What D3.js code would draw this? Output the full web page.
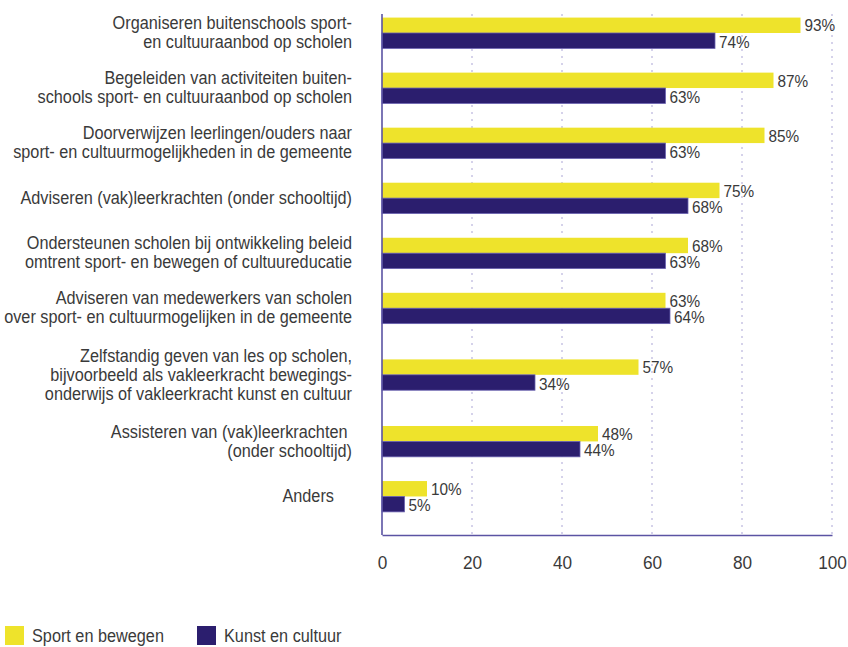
<!DOCTYPE html>
<html>
<head>
<meta charset="utf-8">
<script src="https://cdn.jsdelivr.net/npm/d3@7"></script>
<style>
  html, body { margin: 0; padding: 0; background: #fff; }
  svg { display: block; }
  text { font-family: "Liberation Sans", Arial, sans-serif; fill: #3a3a3a; white-space: pre; }
</style>
</head>
<body>
<svg id="chart" width="848" height="647"></svg>
<script>
// ---- data ----
const categories = [
  ["Organiseren buitenschools sport-", "en cultuuraanbod op scholen"],
  ["Begeleiden van activiteiten buiten-", "schools sport- en cultuuraanbod op scholen"],
  ["Doorverwijzen leerlingen/ouders naar", "sport- en cultuurmogelijkheden in de gemeente"],
  ["Adviseren (vak)leerkrachten (onder schooltijd)"],
  ["Ondersteunen scholen bij ontwikkeling beleid", "omtrent sport- en bewegen of cultuureducatie"],
  ["Adviseren van medewerkers van scholen", "over sport- en cultuurmogelijken in de gemeente"],
  ["Zelfstandig geven van les op scholen,", "bijvoorbeeld als vakleerkracht bewegings-", "onderwijs of vakleerkracht kunst en cultuur"],
  ["Assisteren van (vak)leerkrachten ", "(onder schooltijd)"],
  ["Anders    "]
];
const sportValues = [93, 87, 85, 75, 68, 63, 57, 48, 10];
const kunstValues = [74, 63, 63, 68, 63, 64, 34, 44, 5];
const seriesNames = ["Sport en bewegen", "Kunst en cultuur"];
const xTicks = [0, 20, 40, 60, 80, 100];

// ---- style ----
const YELLOW = "#EEE32B";
const NAVY = "#2B1E6E";
const AXIS = "#5b53a3";
const GRID = "#b9b5dd";
const SX = 0.93; // horizontal text condensing
const FS = 17.5;

const svg = d3.select("#chart");

// layout positions: groups with 3-line labels get extra room
const nLines = categories.map(c => Math.max(2, c.length));
const pos = [];
categories.forEach((c, i) => {
  if (i === 0) pos.push(0);
  else pos.push(pos[i - 1] + 1 + 0.21 * ((nLines[i - 1] - 2) + (nLines[i] - 2)));
});

const x = d3.scaleLinear().domain([0, 100]).range([382, 832]);
const y = d3.scaleLinear().domain([-0.345, pos[pos.length - 1] + 0.7]).range([14, 535]);
const barH = (y(1) - y(0)) * 0.28;

// gridlines
svg.append("g").selectAll("line")
  .data(xTicks.filter(t => t > 0))
  .join("line")
  .attr("x1", d => x(d)).attr("x2", d => x(d))
  .attr("y1", y.range()[0]).attr("y2", y.range()[1])
  .attr("stroke", GRID).attr("stroke-width", 1.2)
  .attr("stroke-dasharray", "2,5");

// bars
const rows = categories.map((c, i) => ({ c, p: pos[i], s: sportValues[i], k: kunstValues[i] }));

svg.append("g").selectAll("rect")
  .data(rows).join("rect")
  .attr("x", x(0)).attr("y", d => y(d.p) - barH)
  .attr("width", d => x(d.s) - x(0)).attr("height", barH)
  .attr("fill", YELLOW);

svg.append("g").selectAll("rect")
  .data(rows).join("rect")
  .attr("x", x(0)).attr("y", d => y(d.p))
  .attr("width", d => x(d.k) - x(0)).attr("height", barH)
  .attr("fill", NAVY).attr("stroke", "#6a62b0").attr("stroke-width", 0.8);

// x axis
const xAxis = d3.axisBottom(x).tickValues(xTicks).tickSize(0).tickPadding(21).tickFormat(d3.format("d"));
const gx = svg.append("g").attr("transform", `translate(0,${y.range()[1]})`).call(xAxis);
gx.select(".domain").attr("stroke", AXIS).attr("stroke-width", 1.6);
gx.selectAll(".tick text")
  .attr("font-size", 18.5).attr("fill", "#3a3a3a")
  .attr("font-family", '"Liberation Sans", Arial, sans-serif')
  .attr("transform", `scale(${SX},1)`);

// y axis line
svg.append("line")
  .attr("x1", x(0)).attr("x2", x(0))
  .attr("y1", y.range()[0]).attr("y2", y.range()[1])
  .attr("stroke", AXIS).attr("stroke-width", 1.6);

// value labels
function valueLabels(data, key, offset) {
  svg.append("g").selectAll("text")
    .data(data).join("text")
    .attr("transform", d => `translate(${x(d[key]) + 4},${y(d.p) + offset}) scale(${SX},1)`)
    .attr("dominant-baseline", "central")
    .attr("font-size", 16.5)
    .text(d => d[key] + "%");
}
valueLabels(rows, "s", -barH / 2 + 0.5);
valueLabels(rows, "k", barH / 2 + 1.5);

// category labels
const lineH = 19;
const lg = svg.append("g");
rows.forEach(d => {
  const n = d.c.length;
  d.c.forEach((line, j) => {
    lg.append("text")
      .attr("transform", `translate(352,${y(d.p) + (j - (n - 1) / 2) * lineH}) scale(${SX},1)`)
      .attr("text-anchor", "end")
      .attr("dominant-baseline", "central")
      .attr("font-size", FS)
      .text(line);
  });
});

// legend
const legendX = [5, 197];
const leg = svg.append("g").selectAll("g")
  .data(seriesNames).join("g")
  .attr("transform", (d, i) => `translate(${legendX[i]},626)`);
leg.append("rect").attr("width", 19).attr("height", 19)
  .attr("fill", (d, i) => i === 0 ? YELLOW : NAVY);
leg.append("text")
  .attr("transform", `translate(27,16) scale(${SX},1)`)
  .attr("font-size", 17.5)
  .text(d => d);
</script>
</body>
</html>
